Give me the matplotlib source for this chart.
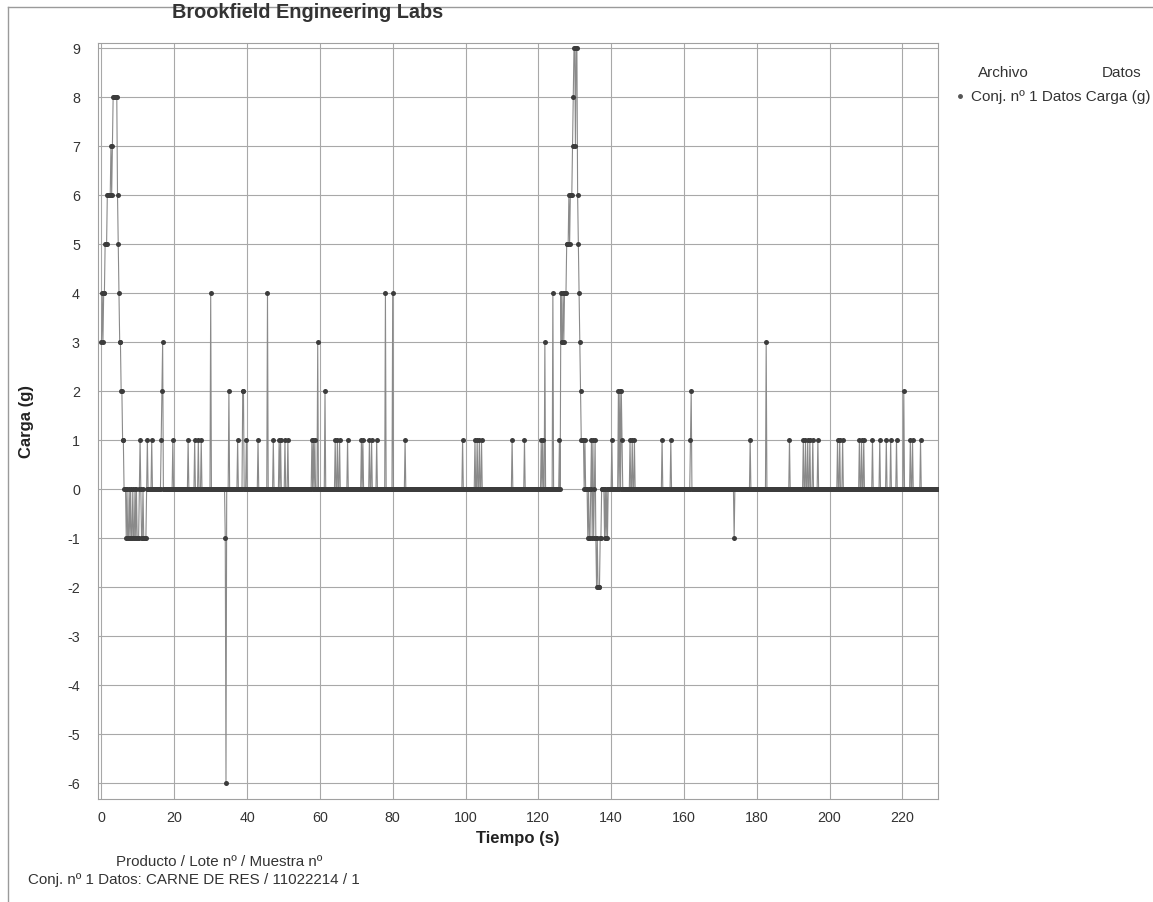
import numpy as np
import matplotlib
matplotlib.use("Agg")
import matplotlib.pyplot as plt
from matplotlib.lines import Line2D

plt.rcParams['font.family'] = ['Liberation Sans', 'DejaVu Sans']

# ---------------- data ----------------
sample_step = 0.2          # s
t_end = 229.8              # s, last sample

# non-zero samples (time s, load g); every other sample is 0
event_t = [
    0.0, 0.2, 0.4, 0.6, 0.8, 1.0, 1.2, 1.4, 1.6, 1.8, 2.0, 2.2, 2.4, 2.6, 2.8,
    3.0, 3.2, 3.4, 3.6, 3.8, 4.0, 4.2, 4.4, 4.6, 4.8, 5.0, 5.2, 5.4, 5.6, 5.8, 6.0,
    6.8, 7.2, 7.4, 7.8, 8.2, 8.4, 8.8, 9.0, 9.4, 9.8, 10.0, 10.2, 10.6, 11.0, 11.2,
    11.6, 11.8, 12.0, 12.2, 12.6, 13.8,
    16.4, 16.6, 16.8, 19.6, 23.8, 25.6, 26.6, 27.4, 30.0, 34.0, 34.2, 35.0, 37.4,
    38.8, 39.0, 39.8, 43.0, 45.6, 47.2, 48.8, 49.2, 50.4, 51.2,
    57.8, 58.2, 58.6, 59.4, 61.4, 64.2, 64.8, 65.4, 67.6, 71.4, 71.8, 73.6, 74.2,
    75.6, 78.0, 80.0, 83.4, 99.2, 102.6, 103.2, 103.8, 104.4, 112.8, 116.2,
    120.8, 121.2, 121.8, 124.0, 125.8,
    126.2, 126.4, 126.6, 126.8, 127.0, 127.2, 127.4, 127.6, 127.8, 128.0, 128.2,
    128.4, 128.6, 128.8, 129.0, 129.2, 129.4, 129.6, 129.8, 130.0, 130.2, 130.4,
    130.6, 130.8, 131.0, 131.2, 131.4, 131.6, 131.8, 132.0, 132.2, 132.4, 132.8,
    133.6, 134.0, 134.2, 134.6, 134.8, 135.0, 135.2, 135.6, 135.8, 136.0, 136.2,
    136.4, 136.6, 136.8, 137.0, 137.2, 138.2, 138.6, 139.0,
    140.2, 142.0, 142.4, 142.8, 143.0, 145.2, 145.8, 146.4, 154.0, 156.4,
    161.8, 162.0, 173.8, 178.2, 182.6, 189.0, 192.8, 193.4, 194.0, 194.6, 195.4,
    196.8, 202.2, 202.8, 203.6, 208.2, 208.8, 209.4, 211.8, 213.8, 215.6, 216.8,
    218.4, 220.4, 222.2, 222.8, 225.0,
]
event_v = [
    3, 4, 3, 4, 4, 5, 5, 5, 6, 6, 6, 6, 6, 7, 6,
    7, 8, 8, 8, 8, 8, 8, 6, 5, 4, 3, 3, 2, 2, 1, 1,
    -1, -1, -1, -1, -1, -1, -1, -1, -1, -1, -1, -1, 1, -1, -1,
    -1, -1, -1, -1, 1, 1,
    1, 2, 3, 1, 1, 1, 1, 1, 4, -1, -6, 2, 1,
    2, 2, 1, 1, 4, 1, 1, 1, 1, 1,
    1, 1, 1, 3, 2, 1, 1, 1, 1, 1, 1, 1, 1,
    1, 4, 4, 1, 1, 1, 1, 1, 1, 1, 1,
    1, 1, 3, 4, 1,
    4, 3, 3, 4, 3, 4, 4, 4, 5, 5, 5,
    6, 5, 6, 6, 6, 7, 8, 9, 9, 7, 9,
    9, 6, 5, 4, 3, 2, 1, 1, 1, 1, 1,
    -1, -1, -1, 1, -1, 1, -1, 1, -1, -2, -1,
    -2, -2, -2, -1, -1, -1, -1, -1,
    1, 2, 2, 2, 1, 1, 1, 1, 1, 1,
    1, 2, -1, 1, 3, 1, 1, 1, 1, 1, 1,
    1, 1, 1, 1, 1, 1, 1, 1, 1, 1, 1,
    1, 2, 1, 1, 1,
]

x_ticks = [0, 20, 40, 60, 80, 100, 120, 140, 160, 180, 200, 220]
y_ticks = [-6, -5, -4, -3, -2, -1, 0, 1, 2, 3, 4, 5, 6, 7, 8, 9]

title = "Brookfield Engineering Labs"
x_label = "Tiempo (s)"
y_label = "Carga (g)"
legend_head = ["Archivo", "Datos"]
legend_entry = "Conj. nº 1 Datos Carga (g)"
footer_1 = "Producto / Lote nº / Muestra nº"
footer_2 = "Conj. nº 1 Datos: CARNE DE RES / 11022214 / 1"

# ---------------- build series ----------------
n = int(round(t_end / sample_step)) + 1
time = np.round(np.arange(n) * sample_step, 1)
load = np.zeros(n)
for tt, vv in zip(event_t, event_v):
    load[int(round(tt / sample_step))] = vv

# ---------------- figure ----------------
W, H = 1153, 903
fig = plt.figure(figsize=(W / 100, H / 100), dpi=100)
fig.patch.set_facecolor('white')

ax = fig.add_axes([98 / W, 1 - 800 / H, 840 / W, 756 / H])
ax.set_xlim(-0.96, 229.8)
ax.set_ylim(-6.33, 9.1)

ax.plot(time, load, color='#8a8a8a', lw=0.8, zorder=2)
ax.plot(time, load, ls='none', marker='o', ms=3.6, mfc='#3c3c3c', mec='#3c3c3c',
        mew=0, zorder=3)

ax.set_xticks(x_ticks)
ax.set_yticks(y_ticks)
ax.set_xticklabels([str(v) for v in x_ticks])
ax.set_yticklabels([str(v) for v in y_ticks])
ax.tick_params(axis='both', length=0, labelsize=10.3, colors='#333333')
ax.tick_params(axis='y', pad=13)
ax.tick_params(axis='x', pad=8)
ax.grid(True, color='#a8a8a8', lw=0.8, zorder=1)
ax.set_axisbelow(True)
for s in ax.spines.values():
    s.set_color('#a0a0a0')
    s.set_linewidth(0.8)

ax.set_xlabel(x_label, fontsize=12, fontweight='bold', color='#222222', labelpad=4)
ax.set_ylabel(y_label, fontsize=12, fontweight='bold', color='#222222', labelpad=24)

fig.text(308 / W, 1 - 13 / H, title, ha='center', va='center', fontsize=14.3,
         fontweight='bold', color='#333333')

# legend
fig.text(1003 / W, 1 - 73 / H, legend_head[0], ha='center', va='center',
         fontsize=11, color='#333333')
fig.text(1122 / W, 1 - 73 / H, legend_head[1], ha='center', va='center',
         fontsize=11, color='#333333')
fig.add_artist(Line2D([960 / W], [1 - 97 / H], marker='o', ms=2.5, color='#555555',
                      ls='none', transform=fig.transFigure))
fig.text(971 / W, 1 - 97 / H, legend_entry, ha='left', va='center',
         fontsize=11, color='#333333')

# footer
fig.text(219 / W, 1 - 862 / H, footer_1, ha='center', va='center',
         fontsize=10.9, color='#333333')
fig.text(28 / W, 1 - 880 / H, footer_2, ha='left', va='center',
         fontsize=10.9, color='#333333')

# outer frame
fig.add_artist(Line2D([8 / W, 8 / W], [0, 1 - 8 / H], color='#9a9a9a', lw=1,
                      transform=fig.transFigure))
fig.add_artist(Line2D([8 / W, 1], [1 - 8 / H, 1 - 8 / H], color='#9a9a9a', lw=1,
                      transform=fig.transFigure))

fig.savefig('out.png', dpi=100, facecolor='white')
